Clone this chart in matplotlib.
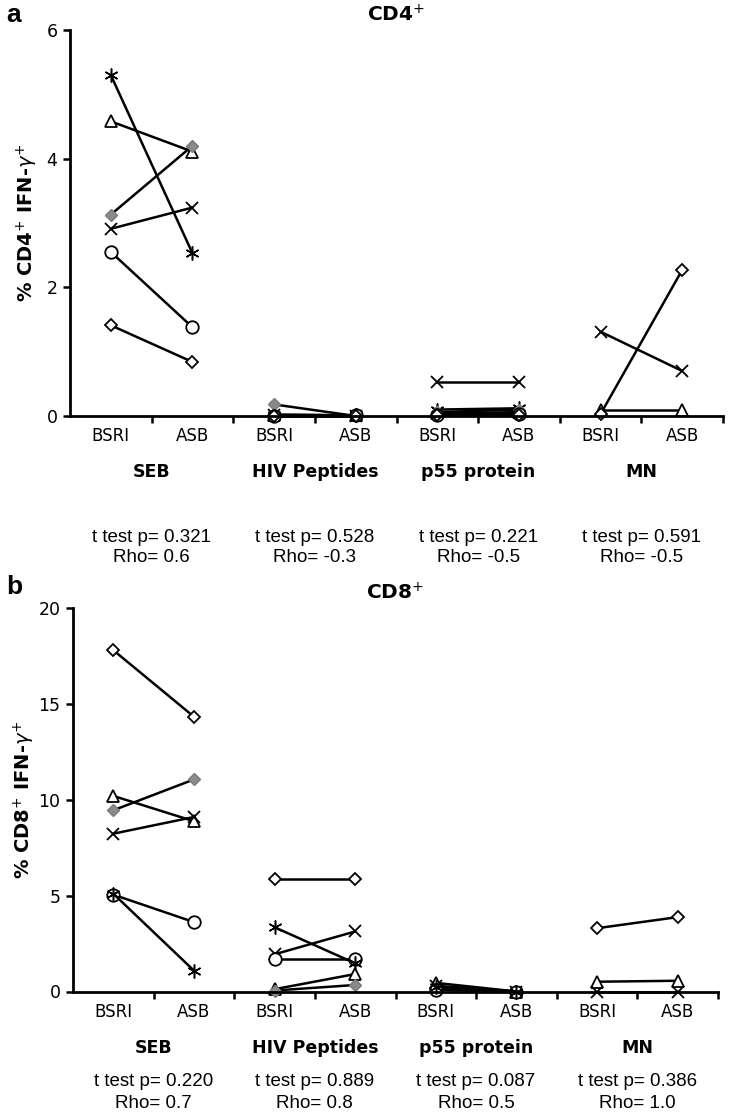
import numpy as np
import matplotlib
matplotlib.use("Agg")
import matplotlib.pyplot as plt
from matplotlib.transforms import blended_transform_factory

# ---------------- data ----------------
x_labels = ["BSRI", "ASB"] * 4
groups = ["SEB", "HIV Peptides", "p55 protein", "MN"]

# panel a (CD4+): each series = 8 values (BSRI, ASB) for the 4 groups
a_star     = [5.30, 2.53, 0.02, 0.01, 0.10, 0.12, np.nan, np.nan]
a_triangle = [4.58, 4.11, 0.02, 0.01, 0.04, 0.06, 0.10, 0.10]
a_gray     = [3.13, 4.20, 0.18, 0.00, 0.06, 0.10, np.nan, np.nan]
a_x        = [2.91, 3.24, 0.01, 0.00, 0.53, 0.53, 1.31, 0.70]
a_circle   = [2.55, 1.38, 0.00, 0.01, 0.02, 0.03, np.nan, np.nan]
a_diamond  = [1.41, 0.84, 0.00, 0.00, 0.01, 0.02, 0.03, 2.27]
a_ttest = ["0.321", "0.528", "0.221", "0.591"]
a_rho   = ["0.6", "-0.3", "-0.5", "-0.5"]

# panel b (CD8+)
b_diamond  = [17.80, 14.33, 5.86, 5.86, 0.20, 0.00, 3.30, 3.88]
b_triangle = [10.20, 8.88, 0.12, 0.91, 0.45, 0.00, 0.51, 0.56]
b_gray     = [9.45, 11.06, 0.05, 0.34, 0.10, 0.00, np.nan, np.nan]
b_x        = [8.23, 9.10, 1.94, 3.13, 0.30, 0.00, 0.00, 0.00]
b_circle   = [5.05, 3.62, 1.68, 1.68, 0.10, 0.00, np.nan, np.nan]
b_star     = [5.10, 1.09, 3.35, 1.47, 0.25, 0.00, np.nan, np.nan]
b_ttest = ["0.220", "0.889", "0.087", "0.386"]
b_rho   = ["0.7", "0.8", "0.5", "1.0"]

a_yticks = [0, 2, 4, 6]
b_yticks = [0, 5, 10, 15, 20]

# ---------------- style ----------------
styles = {
    "diamond":  dict(marker="D", ms=6, mfc="white", mec="black", mew=1.3),
    "circle":   dict(marker="o", ms=9, mfc="white", mec="black", mew=1.3),
    "triangle": dict(marker="^", ms=9, mfc="white", mec="black", mew=1.3),
    "x":        dict(marker="x", ms=8, mfc="none", mec="black", mew=1.3),
    "star":     dict(marker=(6, 2, 0), ms=10, mfc="none", mec="black", mew=1.1),
    "gray":     dict(marker="D", ms=6, mfc="#8a8a8a", mec="#7a7a7a", mew=1.0),
}

W, H = 750, 1118
fig = plt.figure(figsize=(W / 100, H / 100), dpi=100)

def px(x0, y0, x1, y1):
    return [x0 / W, 1 - y1 / H, (x1 - x0) / W, (y1 - y0) / H]

def draw_panel(rect, series, yticks, ymax, title, ylabel, letter, ttests, rhos,
               y_cat, y_t1, y_t2, letter_xy, ylabel_x):
    ax = fig.add_axes(rect)
    xs = np.arange(8)
    for name, vals in series:
        st = styles[name]
        for g in range(4):
            xx = xs[2 * g:2 * g + 2]
            yy = vals[2 * g:2 * g + 2]
            ax.plot(xx, yy, color="black", lw=1.8, zorder=2, clip_on=False,
                    solid_capstyle="round", **st)
    ax.set_xlim(-0.5, 7.5)
    ax.set_ylim(0, ymax)
    ax.set_yticks(yticks)
    ax.set_yticklabels([str(t) for t in yticks], fontsize=12.5)
    ax.set_xticks(xs)
    ax.set_xticklabels(x_labels, fontsize=12)
    ax.set_xticks(np.arange(0.5, 8, 1), minor=True)
    ax.tick_params(axis="x", which="major", length=0, pad=8)
    ax.tick_params(axis="x", which="minor", length=5, width=1.8, direction="out")
    ax.tick_params(axis="y", length=5, width=1.8, direction="out", pad=4)
    for s in ["top", "right"]:
        ax.spines[s].set_visible(False)
    for s in ["left", "bottom"]:
        ax.spines[s].set_linewidth(2)
    ax.set_title(title, fontsize=14.5, fontweight="bold", pad=6)
    ax.set_ylabel(ylabel, fontsize=14, fontweight="bold")
    ax.yaxis.set_label_coords(ylabel_x, 0.5, transform=blended_transform_factory(
        fig.transFigure, ax.transAxes))
    tr = blended_transform_factory(ax.transData, fig.transFigure)
    for g in range(4):
        cx = 2 * g + 0.5
        ax.text(cx, 1 - y_cat / H, groups[g], transform=tr, ha="center",
                va="center", fontsize=12.5, fontweight="bold")
        ax.text(cx, 1 - y_t1 / H, "t test p= " + ttests[g], transform=tr,
                ha="center", va="center", fontsize=13.5,
                fontfamily="Liberation Sans")
        ax.text(cx, 1 - y_t2 / H, "Rho= " + rhos[g], transform=tr,
                ha="center", va="center", fontsize=13.5,
                fontfamily="Liberation Sans")
    fig.text(letter_xy[0] / W, 1 - letter_xy[1] / H, letter, fontsize=19,
             fontweight="bold", fontfamily="Liberation Sans",
             ha="left", va="center")
    return ax

series_a = [("star", a_star), ("triangle", a_triangle), ("gray", a_gray),
            ("x", a_x), ("circle", a_circle), ("diamond", a_diamond)]
series_b = [("diamond", b_diamond), ("triangle", b_triangle), ("gray", b_gray),
            ("x", b_x), ("circle", b_circle), ("star", b_star)]

draw_panel(px(70, 30, 723, 416), series_a, a_yticks, 6, r"CD4$^{+}$",
           r"% CD4$^{+}$ IFN-$\gamma^{+}$", "a", a_ttest, a_rho,
           472, 537, 558, (6, 15), 40 / W)
draw_panel(px(73, 608, 718, 991.5), series_b, b_yticks, 20, r"CD8$^{+}$",
           r"% CD8$^{+}$ IFN-$\gamma^{+}$", "b", b_ttest, b_rho,
           1048, 1081, 1103, (6, 587), 37 / W)

fig.savefig("out.png", dpi=100)
